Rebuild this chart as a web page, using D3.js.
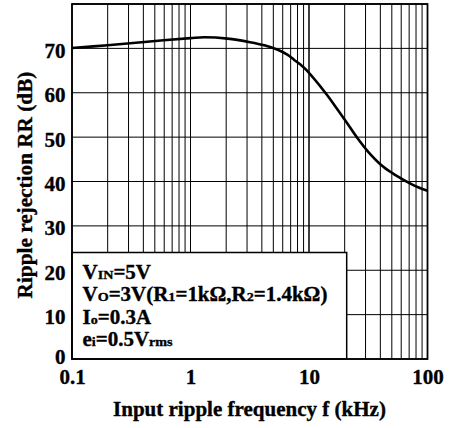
<!DOCTYPE html>
<html><head><meta charset="utf-8">
<script src="https://cdn.jsdelivr.net/npm/d3@7"></script>
<style>body{margin:0;background:#fff}svg{display:block}text{font-family:"Liberation Serif","Times New Roman",serif;font-weight:bold;fill:#000;stroke:#000;stroke-width:0.35px}</style>
</head><body>
<svg id="c" width="450" height="428"></svg>
<script>
const freq = [0.1, 0.2, 0.43, 1, 1.3, 2.06, 3.18, 4.2, 5.44, 6.56, 7.51, 8.52, 9.44, 14.1, 17.1, 20.8, 25.3, 31.6, 42.4, 53.2, 75.9, 100];
const rr   = [70.1, 70.7, 71.5, 72.3, 72.5, 72.2, 71.4, 70.7, 69.7, 68.6, 67.4, 66.3, 65.2, 59.6, 56.5, 53.3, 50.0, 46.7, 43.3, 41.5, 39.2, 37.9];
const xTicks = [0.1, 1, 10, 100];
const xTickLabels = ["0.1", "1", "10", "100"];
const yTicks = [0, 10, 20, 30, 40, 50, 60, 70];
const yMax = 80;
const boxEdge = {f: 20.8, rr: 24};

const svg = d3.select("#c");
const L = 72, R = 427.5, T = 4, B = 359;
const x = d3.scaleLog().domain([0.1, 100]).range([L, R]);
const y = d3.scaleLinear().domain([0, yMax]).range([B, T]);

function stretch(sel, s, anchorX) {
  const prev = sel.attr("transform") || "";
  sel.attr("transform", `${prev} translate(${anchorX},0) scale(${s},1) translate(${-anchorX},0)`);
}
function fitWidth(sel, target, anchorX) {
  const w = sel.node().getComputedTextLength();
  stretch(sel, target / w, anchorX);
}

// grid
const minor = [];
for (let d = 0.1; d < 100; d *= 10) for (let k = 1; k <= 10; k++) minor.push(+(d * k).toPrecision(3));
const g = svg.append("g");
g.selectAll("line.v").data(minor).join("line")
  .attr("x1", d => x(d)).attr("x2", d => x(d)).attr("y1", T).attr("y2", B)
  .attr("stroke", "#000").attr("stroke-width", 1);
g.selectAll("line.h").data(d3.range(0, yMax + 1, 10)).join("line")
  .attr("x1", L).attr("x2", R).attr("y1", d => y(d)).attr("y2", d => y(d))
  .attr("stroke", "#000").attr("stroke-width", 1);

// curve
svg.append("path").datum(freq.map((f, i) => [f, rr[i]]))
  .attr("d", d3.line().x(d => x(d[0])).y(d => y(d[1])).curve(d3.curveCatmullRom.alpha(0.5)))
  .attr("fill", "none").attr("stroke", "#000").attr("stroke-width", 2.6);

// legend box
svg.append("rect").attr("x", L).attr("y", y(boxEdge.rr))
  .attr("width", x(boxEdge.f) - L).attr("height", B - y(boxEdge.rr))
  .attr("fill", "#fff").attr("stroke", "#000").attr("stroke-width", 1.5);

// frame
svg.append("rect").attr("x", L).attr("y", T).attr("width", R - L).attr("height", B - T)
  .attr("fill", "none").attr("stroke", "#000").attr("stroke-width", 1.8);

// axes labels (no tick marks)
const xa = d3.axisBottom(x).tickValues(xTicks).tickFormat((d, i) => xTickLabels[i]).tickSize(0).tickPadding(0);
const xg = svg.append("g").attr("transform", `translate(0,${B})`).call(xa);
xg.select(".domain").remove();
xg.selectAll("text").attr("dy", null).attr("y", 24.5).style("font-size", "21px").style("font-family", null);

const ya = d3.axisLeft(y).tickValues(yTicks).tickSize(0).tickPadding(0);
const yg = svg.append("g").attr("transform", `translate(65.5,0)`).call(ya);
yg.select(".domain").remove();
yg.selectAll("text").attr("dy", d => d === 0 ? "0.22em" : "0.43em").style("font-size", "21px").style("font-family", null);

const xt = svg.append("text").attr("x", 249.5).attr("y", 416).attr("text-anchor", "middle")
  .style("font-size", "20px").text("Input ripple frequency f (kHz)");
fitWidth(xt, 273, 249.5);

const yt = svg.append("text").attr("x", 0).attr("y", 0).attr("text-anchor", "middle")
  .style("font-size", "20px").text("Ripple rejection RR (dB)");
fitWidth(yt, 227, 0);
yt.attr("transform", "translate(31.5,185) rotate(-90) " + yt.attr("transform"));

// legend text
const lines = [
  [["V", 0], ["IN", 1], ["=5V", 0]],
  [["V", 0], ["O", 1], ["=3V(R", 0], ["1", 1], ["=1kΩ,R", 0], ["2", 1], ["=1.4kΩ)", 0]],
  [["I", 0], ["o", 1], ["=0.3A", 0]],
  [["e", 0], ["i", 1], ["=0.5V", 0], ["rms", 1]]
];
const lineY = [279, 301.5, 324, 346.5];
const lt = svg.append("g");
const texts = lines.map((ln, i) => {
  const t = lt.append("text").attr("x", 82.5).attr("y", lineY[i]).style("font-size", "20px");
  ln.forEach(([s, sub]) => t.append("tspan").text(s).style("font-size", sub ? "13.5px" : "20px"));
  return t;
});
const sc = 245 / texts[1].node().getComputedTextLength();
texts.forEach(t => stretch(t, sc, 82.5));
</script>
</body></html>
